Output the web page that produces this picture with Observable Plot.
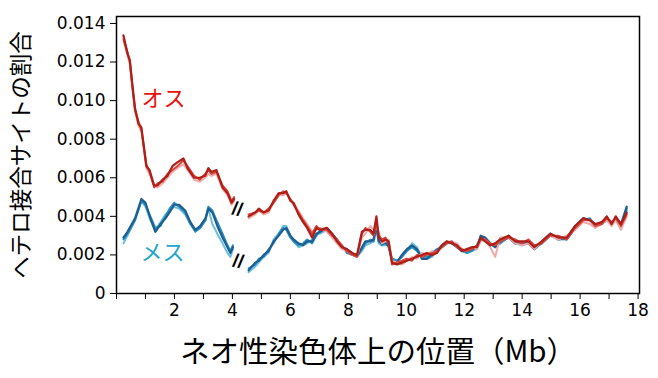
<!DOCTYPE html>
<html>
<head>
<meta charset="utf-8">
<script src="https://cdn.jsdelivr.net/npm/d3@7"></script>
<script src="https://cdn.jsdelivr.net/npm/@observablehq/plot@0.6"></script>
<style>
  html, body { margin: 0; padding: 0; background: #fff; }
</style>
</head>
<body>
<div id="chart"></div>
<script>
// ---- x positions (Mb) ----
const xRed1 = [0.24, 0.38, 0.46, 0.55, 0.64, 0.76, 0.86, 1.03, 1.14, 1.30, 1.41, 1.59, 1.76, 1.93, 2.10, 2.31, 2.45, 2.68, 2.87, 3.06, 3.17, 3.28, 3.45, 3.66, 3.83, 3.97, 4.06];
const xBlue1 = [0.24, 0.38, 0.64, 0.86, 1.00, 1.17, 1.34, 1.52, 1.69, 1.83, 1.99, 2.16, 2.37, 2.55, 2.72, 2.89, 3.07, 3.17, 3.31, 3.48, 3.66, 3.83, 3.93, 4.02];
const x2 = [
  4.56, 4.79, 4.91, 5.08, 5.25, 5.42, 5.60, 5.75, 5.86, 6.00,
  6.11, 6.28, 6.44, 6.58, 6.75, 6.90, 7.03, 7.26, 7.44, 7.61,
  7.78, 7.95, 8.13, 8.30, 8.47, 8.59, 8.76, 8.87, 8.97, 9.05,
  9.16, 9.28, 9.39, 9.51, 9.68, 9.85, 10.02, 10.20, 10.37, 10.54,
  10.71, 10.89, 11.06, 11.23, 11.40, 11.57, 11.75, 11.92, 12.09, 12.26,
  12.44, 12.57, 12.72, 12.90, 13.07, 13.24, 13.53, 13.76, 13.99, 14.22,
  14.42, 14.68, 14.97, 15.25, 15.54, 15.83, 16.11, 16.34, 16.52, 16.75,
  16.92, 17.09, 17.23, 17.41, 17.61
];

// ---- male (オス) replicates, segment 1 ----
const redA1 = [0.01338, 0.01244, 0.0121, 0.0108, 0.0096, 0.0088, 0.0086, 0.0066, 0.0064, 0.0056, 0.0056, 0.0059, 0.0061, 0.0066, 0.0068, 0.0070, 0.0065, 0.0060, 0.0060, 0.0061, 0.0065, 0.0063, 0.0064, 0.0055, 0.0052, 0.0047, 0.0049];
const redB1 = [0.01320, 0.01250, 0.0120, 0.0107, 0.0095, 0.0089, 0.0085, 0.0067, 0.0063, 0.0055, 0.0057, 0.0058, 0.0062, 0.0064, 0.0066, 0.0069, 0.0066, 0.0061, 0.0059, 0.0062, 0.0064, 0.0062, 0.0063, 0.0056, 0.0053, 0.0048, 0.0050];
const redC1 = [0.01310, 0.01235, 0.0119, 0.0106, 0.0094, 0.0087, 0.0084, 0.0065, 0.0062, 0.0056, 0.0055, 0.0057, 0.0060, 0.0063, 0.0065, 0.0067, 0.0064, 0.0059, 0.0058, 0.0060, 0.0062, 0.0061, 0.0062, 0.0054, 0.0051, 0.0046, 0.0048];

// ---- male replicates, segment 2 ----
const redA2 = [
  .0040,.0042,.0044,.0042,.0043,.0048,.0052,.0052,.0053,.0048,
  .0047,.0041,.0037,.0034,.0029,.0034,.0033,.0034,.0031,.0027,
  .0024,.0023,.0021,.0020,.0032,.0033,.0033,.0031,.0040,.0029,
  .0027,.0028,.0027,.0016,.0015,.0016,.0017,.0018,.0019,.0020,
  .0021,.0020,.0021,.0025,.0027,.0026,.0025,.0022,.0023,.0024,
  .0024,.0029,.0027,.0025,.0026,.0028,.0030,.0027,.0027,.0027,
  .0024,.0027,.0031,.0029,.0029,.0035,.0039,.0038,.0036,.0037,
  .0040,.0036,.0040,.0036,.0042
];
const redB2 = [
  .0041,.0042,.0043,.0042,.0044,.0047,.0051,.0053,.0052,.0049,
  .0046,.0042,.0038,.0035,.0031,.0035,.0033,.0033,.0030,.0028,
  .0025,.0022,.0020,.0019,.0031,.0034,.0032,.0030,.0037,.0030,
  .0028,.0029,.0026,.0015,.0016,.0017,.0018,.0017,.0020,.0019,
  .0020,.0021,.0022,.0024,.0026,.0027,.0024,.0023,.0022,.0023,
  .0025,.0028,.0028,.0026,.0025,.0027,.0029,.0028,.0026,.0028,
  .0025,.0026,.0030,.0030,.0028,.0034,.0038,.0038,.0035,.0036,
  .0039,.0037,.0039,.0035,.0041
];
const redC2 = [
  .0039,.0041,.0043,.0041,.0042,.0047,.0051,.0051,.0052,.0049,
  .0047,.0043,.0039,.0036,.0032,.0033,.0034,.0032,.0029,.0026,
  .0023,.0022,.0020,.0019,.0029,.0031,.0035,.0033,.0034,.0032,
  .0026,.0027,.0028,.0017,.0016,.0015,.0017,.0019,.0018,.0021,
  .0020,.0022,.0021,.0024,.0027,.0027,.0026,.0023,.0022,.0024,
  .0023,.0027,.0028,.0024,.0019,.0029,.0029,.0026,.0025,.0026,
  .0023,.0027,.0030,.0028,.0030,.0033,.0037,.0036,.0034,.0036,
  .0038,.0035,.0038,.0033,.0040
];

// ---- female (メス) replicates, segment 1 ----
const blueA1 = [0.0029, 0.0032, 0.0039, 0.0049, 0.0047, 0.0039, 0.0032, 0.0036, 0.0039, 0.0042, 0.0046, 0.0046, 0.0043, 0.0037, 0.0033, 0.0035, 0.0039, 0.0044, 0.0042, 0.0035, 0.0029, 0.0024, 0.0021, 0.0024];
const blueB1 = [0.0028, 0.0031, 0.0038, 0.0048, 0.0046, 0.0040, 0.0034, 0.0035, 0.0040, 0.0044, 0.0047, 0.0045, 0.0042, 0.0036, 0.0032, 0.0034, 0.0038, 0.0045, 0.0043, 0.0037, 0.0031, 0.0025, 0.0022, 0.0025];
const blueC1 = [0.0026, 0.0030, 0.0038, 0.0048, 0.0045, 0.0038, 0.0033, 0.0037, 0.0041, 0.0043, 0.0045, 0.0044, 0.0041, 0.0036, 0.0033, 0.0034, 0.0038, 0.0044, 0.0036, 0.0031, 0.0026, 0.0021, 0.0019, 0.0023];

// ---- female replicates, segment 2 ----
const blueA2 = [
  .0012,.0016,.0017,.0020,.0022,.0027,.0030,.0033,.0034,.0030,
  .0028,.0026,.0025,.0027,.0027,.0031,.0032,.0034,.0031,.0028,
  .0024,.0022,.0021,.0019,.0024,.0027,.0027,.0028,.0036,.0027,
  .0026,.0026,.0025,.0017,.0016,.0020,.0023,.0025,.0023,.0018,
  .0018,.0020,.0022,.0025,.0027,.0026,.0024,.0022,.0022,.0023,
  .0024,.0030,.0029,.0026,.0024,.0027,.0029,.0026,.0026,.0026,
  .0023,.0027,.0031,.0028,.0029,.0035,.0039,.0038,.0036,.0036,
  .0039,.0036,.0039,.0036,.0045
];
const blueB2 = [
  .0013,.0015,.0018,.0019,.0023,.0026,.0031,.0034,.0033,.0029,
  .0027,.0025,.0026,.0028,.0026,.0030,.0033,.0033,.0030,.0027,
  .0025,.0021,.0020,.0020,.0023,.0026,.0028,.0027,.0034,.0028,
  .0025,.0027,.0024,.0018,.0017,.0019,.0022,.0024,.0022,.0019,
  .0019,.0021,.0023,.0024,.0026,.0027,.0025,.0023,.0021,.0022,
  .0025,.0029,.0028,.0025,.0025,.0026,.0030,.0027,.0025,.0027,
  .0024,.0026,.0030,.0029,.0028,.0034,.0038,.0039,.0035,.0037,
  .0038,.0037,.0038,.0035,.0044
];
const blueC2 = [
  .0011,.0014,.0016,.0019,.0021,.0028,.0031,.0035,.0035,.0030,
  .0027,.0024,.0025,.0026,.0028,.0031,.0031,.0033,.0030,.0027,
  .0024,.0023,.0021,.0019,.0022,.0025,.0026,.0027,.0033,.0026,
  .0025,.0025,.0026,.0018,.0017,.0019,.0022,.0026,.0024,.0019,
  .0018,.0019,.0022,.0024,.0026,.0026,.0025,.0022,.0021,.0022,
  .0023,.0029,.0028,.0026,.0024,.0026,.0029,.0026,.0025,.0026,
  .0023,.0026,.0030,.0028,.0028,.0034,.0039,.0038,.0035,.0036,
  .0038,.0036,.0038,.0035,.0043
];

// ---- ticks & labels ----
const xTicks = d3.range(0, 19, 1);
const yTicks = [0, 0.002, 0.004, 0.006, 0.008, 0.010, 0.012, 0.014];
const groupNames = ["オス", "メス"];
const groupLabelX = [1.62, 1.59];
const groupLabelY = [0.0101, 0.0021];
const breakX = [4.17, 4.2];
const breakY = [0.00437, 0.00167];
const xTitle = "ネオ性染色体上の位置（Mb）";
const yTitle = "ヘテロ接合サイトの割合";

// ---- build table ----
const seriesDefs = [
  {id: "blueC", color: "#6cc0df", width: 2.0, segs: [[xBlue1, blueC1], [x2, blueC2]]},
  {id: "blueB", color: "#2b8dc0", width: 2.0, segs: [[xBlue1, blueB1], [x2, blueB2]]},
  {id: "blueA", color: "#1d5e8e", width: 2.2, segs: [[xBlue1, blueA1], [x2, blueA2]]},
  {id: "redC",  color: "#eeaaa8", width: 2.0, segs: [[xRed1, redC1], [x2, redC2]]},
  {id: "redB",  color: "#d4473f", width: 2.0, segs: [[xRed1, redB1], [x2, redB2]]},
  {id: "redA",  color: "#b01e18", width: 2.2, segs: [[xRed1, redA1], [x2, redA2]]}
];

const lineMarks = seriesDefs.map(s => {
  const rows = [];
  s.segs.forEach(([xs, ys], k) => {
    xs.forEach((x, i) => rows.push({x, y: ys[i], key: s.id + "-" + k}));
  });
  return Plot.line(rows, {x: "x", y: "y", z: "key", stroke: s.color, strokeWidth: s.width, strokeLinejoin: "round"});
});

const labels = groupNames.map((n, i) => ({n, x: groupLabelX[i], y: groupLabelY[i]}));
const breaks = breakX.map((x, i) => ({x, y: breakY[i]}));

const chart = Plot.plot({
  width: 658,
  height: 378,
  marginLeft: 116,
  marginRight: 19,
  marginTop: 16,
  marginBottom: 85,
  style: {fontFamily: "'DejaVu Sans', sans-serif", fontSize: "17px", color: "black", background: "white"},
  x: {domain: [0, 18.05], ticks: xTicks, tickFormat: d => (d > 0 && d % 2 === 0) ? String(d) : "", tickSize: 6, tickPadding: 4, label: null},
  y: {domain: [0, 0.01436], ticks: yTicks, tickFormat: d => d === 0 ? "0" : d3.format(".3f")(d), tickSize: 6, tickPadding: 5, label: null},
  marks: [
    ...lineMarks,
    Plot.text(labels, {x: "x", y: "y", text: "n", fill: (d) => d.n === "オス" ? "#e8120c" : "#1ea6cb", fontSize: 22, fontFamily: "'Noto Sans CJK JP', sans-serif"}),
    Plot.text(breaks, {x: "x", y: "y", text: () => "//", rotate: 12, fill: "black", fontSize: 19, fontWeight: "bold", fontFamily: "'Liberation Sans', Arial, sans-serif"}),
    Plot.text([xTitle], {frameAnchor: "bottom", dy: 59, textAnchor: "middle", lineAnchor: "middle", fontSize: 29.5, fill: "black", fontFamily: "'Noto Sans CJK JP', sans-serif"}),
    Plot.text([yTitle], {frameAnchor: "left", dx: -95, textAnchor: "middle", lineAnchor: "middle", rotate: -90, fontSize: 22.5, fill: "black", fontFamily: "'Noto Sans CJK JP', sans-serif"}),
    Plot.frame({stroke: "black", strokeWidth: 1.5})
  ]
});
document.getElementById("chart").appendChild(chart);
</script>
</body>
</html>
